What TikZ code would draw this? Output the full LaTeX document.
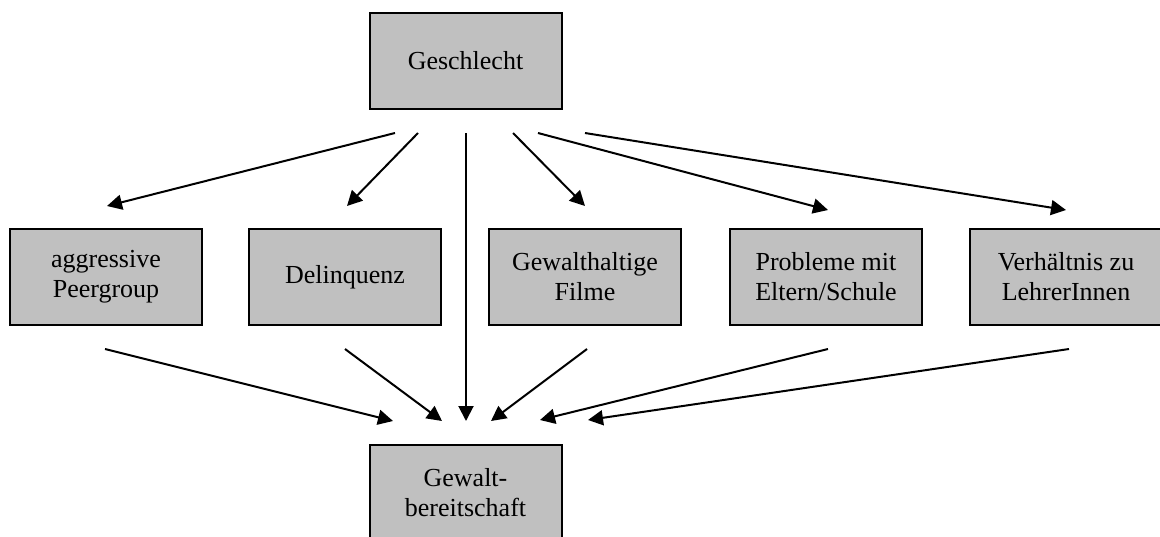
\documentclass[tikz,border=0pt]{standalone}
\usepackage{fontspec}
\setmainfont{Liberation Serif}
\usetikzlibrary{arrows.meta}
\definecolor{boxgray}{HTML}{C0C0C0}
\begin{document}
\begin{tikzpicture}[x=1pt,y=-1pt,
  box/.style={draw=black, line width=2pt, fill=boxgray, minimum width=192pt, minimum height=96pt,
    align=center, inner sep=0pt, font=\fontsize{26}{30}\selectfont},
  arr/.style={line width=2pt, -{Triangle[length=15pt,width=15pt]}}]
\useasboundingbox (0,0) rectangle (1160,536);
\begin{scope}
\clip (0,0) rectangle (1160,536);
\node[box] (g) at (465.5,61) {Geschlecht};
\node[box] (a) at (106,277) {aggressive\\Peergroup};
\node[box] (d) at (345,277) {Delinquenz};
\node[box] (f) at (585,277) {Gewalthaltige\\Filme};
\node[box] (p) at (826,277) {Probleme mit\\Eltern/Schule};
\node[box] (v) at (1066,277) {Verhältnis zu\\LehrerInnen};
\node[box] (b) at (465.5,493) {Gewalt-\\bereitschaft};
\end{scope}
% start and end points of the free-floating connectors
\coordinate (g1) at (395,133);
\coordinate (g2) at (418,133);
\coordinate (g3) at (466,133);
\coordinate (g4) at (513,133);
\coordinate (g5) at (538,133);
\coordinate (g6) at (585,133);
\coordinate (ta) at (107,206);
\coordinate (td) at (347,206);
\coordinate (tf) at (585,206);
\coordinate (tp) at (828,210);
\coordinate (tv) at (1066,210);
\coordinate (sa) at (105,349);
\coordinate (sd) at (345,349);
\coordinate (sf) at (587,349);
\coordinate (sp) at (828,349);
\coordinate (sv) at (1069,349);
\coordinate (ba) at (393,421);
\coordinate (bd) at (442,421);
\coordinate (bg) at (466,421);
\coordinate (bf) at (491,421);
\coordinate (bp) at (540,420);
\coordinate (bv) at (588,420);
\draw[arr] (g1) -- (ta);
\draw[arr] (g2) -- (td);
\draw[arr] (g3) -- (bg);
\draw[arr] (g4) -- (tf);
\draw[arr] (g5) -- (tp);
\draw[arr] (g6) -- (tv);
\draw[arr] (sa) -- (ba);
\draw[arr] (sd) -- (bd);
\draw[arr] (sf) -- (bf);
\draw[arr] (sp) -- (bp);
\draw[arr] (sv) -- (bv);
\end{tikzpicture}
\end{document}
